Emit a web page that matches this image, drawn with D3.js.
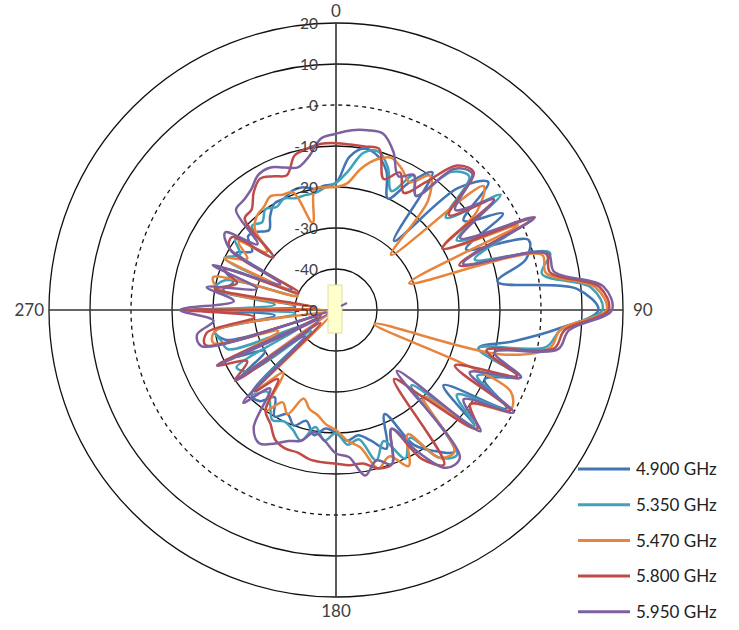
<!DOCTYPE html>
<html><head><meta charset="utf-8">
<script src="https://cdn.jsdelivr.net/npm/d3@7"></script>
<style>body{margin:0;background:#fff} svg{display:block}</style>
</head><body>
<svg id="c" width="739" height="630"></svg>
<script>
// angle categories (degrees, clockwise from top)
const angles = d3.range(0, 360, 5);
const ringTicks = [20, 10, 0, -10, -20, -30, -40, -50];
const angleLabels = [0, 90, 180, 270];
const seriesNames = ["4.900 GHz", "5.350 GHz", "5.470 GHz", "5.800 GHz", "5.950 GHz"];
const seriesColors = ["#4374B3", "#3FA2B9", "#E8853D", "#BE4B48", "#7D60A0"];

const s4900 = [
  -19, -12.5, -10, -11, -14, -20, -14, -9, -28,
  -8, -1.5, -12, -3, -15, 0, -2, -10, 9,
  14, 4, -6, -14, -3, -10, -2, -18, -6,
  -20, -5, -8, -12, -22, -14, -17, -19, -18,
  -20, -21, -19, -22, -20, -22, -20, -24, -21,
  -20.8, -40, -22, -30, -23, -45, -22, -20, -35,
  -16, -40, -22, -24, -21, -38, -22, -25, -22,
  -23, -24.6, -22, -20, -20, -19, -19, -20, -19.5
];
const s5350 = [
  -19, -16, -11, -10, -13, -18, -12, -16, -6,
  -4, -15, -1, -16, 2, -14, 4, 1, 12.5,
  15, 5, 2, -14, -2, -12, -1, -14, -6,
  -24, -4, -6, -14, -10, -16, -12, -18, -17,
  -20, -18, -21, -17, -19, -20, -19, -22, -24,
  -21, -42, -24, -22, -40, -22, -21, -20, -40,
  -15, -35, -20, -22, -40, -20, -23, -20, -30,
  -21, -22, -20, -21, -20, -21, -21, -21, -20
];
const s5470 = [
  -20, -19, -15, -12, -10.5, -12, -14, -10, -15,
  -31, -3, -8, -20, -1, -31, 2, 2, 13.5,
  16, 5, 3, -8, -40, -3, -1, -10, -5,
  -20, -5, -6, -15, -8, -12, -10, -16, -18,
  -20.7, -22, -24, -25, -27, -22, -24, -20, -30,
  -22, -48, -20, -45, -20, -35, -19, -20, -48,
  -17.6, -45, -21, -19, -40, -20, -25, -21, -28,
  -22, -20, -19.3, -18, -19, -19.5, -28, -20, -20
];
const s5800 = [
  -9.3, -9.5, -9.5, -9.3, -16, -13, -17, -12, -4,
  -2.5, -14, -3, -20, 3, -18, 3, 3, 14.5,
  16.5, 6, 4, -12, -3, -18, -1, -10, -5,
  -20, -28, -4, -8, -18, -10, -10, -12, -12,
  -12.5, -12.7, -13, -14, -14, -15, -18, -20, -28,
  -22, -45, -20, -25, -18, -46, -17, -18, -30,
  -13, -45, -20, -25, -21, -40, -20, -19, -30,
  -18.5, -18, -15, -13, -14, -15, -11, -10, -9.3
];
const s5950 = [
  -7, -6, -5.5, -5.5, -9, -14, -12, -16, -5,
  -3, -12, -3, -15, 3.5, -17, 3.5, 4, 15.5,
  17.3, 7, 5, -10, -2, -14, 0, -12, -4,
  -29, -3, -3, -10, -18, -10, -12, -9, -14,
  -15, -18, -19.7, -17, -16, -14, -12.5, -15, -25,
  -18, -40, -20, -45, -18, -48, -16, -15.6, -20,
  -12, -25, -18, -30, -18, -35, -20, -17, -25,
  -15.5, -15, -14, -12, -11.7, -13, -14, -12, -8
];
const seriesValues = [s4900, s5350, s5470, s5800, s5950];

const svg = d3.select("#c");
const cx = 336, cy = 310, R = 287;
const r = d3.scaleLinear().domain([-50, 20]).range([0, R]);
const g = svg.append("g").attr("transform", `translate(${cx},${cy})`);

// rings
g.selectAll("circle.ring").data(ringTicks.filter(t => t > -50)).enter().append("circle")
  .attr("r", d => r(d)).attr("fill", "none").attr("stroke", "#111")
  .attr("stroke-width", 1.3)
  .attr("stroke-dasharray", d => d === 0 ? "4,4" : null);

// cross axes
g.append("line").attr("x1", 0).attr("x2", 0).attr("y1", -R).attr("y2", R)
  .attr("stroke", "#333").attr("stroke-width", 1.6);
g.append("line").attr("x1", -R).attr("x2", R).attr("y1", 0).attr("y2", 0)
  .attr("stroke", "#333").attr("stroke-width", 1.6);

// series
const line = d3.lineRadial()
  .angle((d, i) => angles[i] * Math.PI / 180)
  .radius(d => r(d))
  .curve(d3.curveCatmullRomClosed.alpha(0.5));
g.selectAll("path.series").data(seriesValues).enter().append("path")
  .attr("class", "series")
  .attr("d", d => line(d))
  .attr("fill", "none")
  .attr("stroke", (d, i) => seriesColors[i])
  .attr("stroke-width", 2.5)
  .attr("stroke-linejoin", "round");

// antenna icon at centre
g.append("rect").attr("x", -8).attr("y", -25).attr("width", 14).attr("height", 48)
  .attr("fill", "#FFFFCC").attr("stroke", "#E3DDA8").attr("stroke-width", 1);
g.append("path").attr("d", "M5,-4 L11,-7").attr("stroke", "#7D60A0")
  .attr("stroke-width", 2).attr("fill", "none");

// ring tick labels
g.selectAll("text.tick").data(ringTicks).enter().append("text")
  .attr("x", -18).attr("y", d => -r(d))
  .attr("dy", "0.36em")
  .attr("text-anchor", "end")
  .attr("font-family", "Lato, 'Open Sans', sans-serif")
  .attr("font-size", 15.5).attr("fill", "#404040")
  .text(d => d);

// angle labels
const angPos = {0: [0, -R - 12, "middle"], 90: [R + 10, 0, "start"], 180: [0, R + 14, "middle"], 270: [-R - 5, 0, "end"]};
g.selectAll("text.ang").data(angleLabels).enter().append("text")
  .attr("x", d => angPos[d][0]).attr("y", d => angPos[d][1])
  .attr("dy", "0.36em")
  .attr("text-anchor", d => angPos[d][2])
  .attr("font-family", "Lato, 'Open Sans', sans-serif")
  .attr("font-size", 17).attr("fill", "#404040")
  .text(d => d);

// legend
const lg = svg.append("g").attr("transform", "translate(578,469)");
const items = lg.selectAll("g").data(seriesNames).enter().append("g")
  .attr("transform", (d, i) => `translate(0,${i * 35.7})`);
items.append("line").attr("x1", 0).attr("x2", 52).attr("y1", 0).attr("y2", 0)
  .attr("stroke", (d, i) => seriesColors[i]).attr("stroke-width", 3);
items.append("text").attr("x", 58).attr("y", 0).attr("dy", "0.36em")
  .attr("font-family", "Lato, 'Open Sans', sans-serif")
  .attr("font-size", 17).attr("fill", "#222")
  .text(d => d);
</script>
</body></html>
